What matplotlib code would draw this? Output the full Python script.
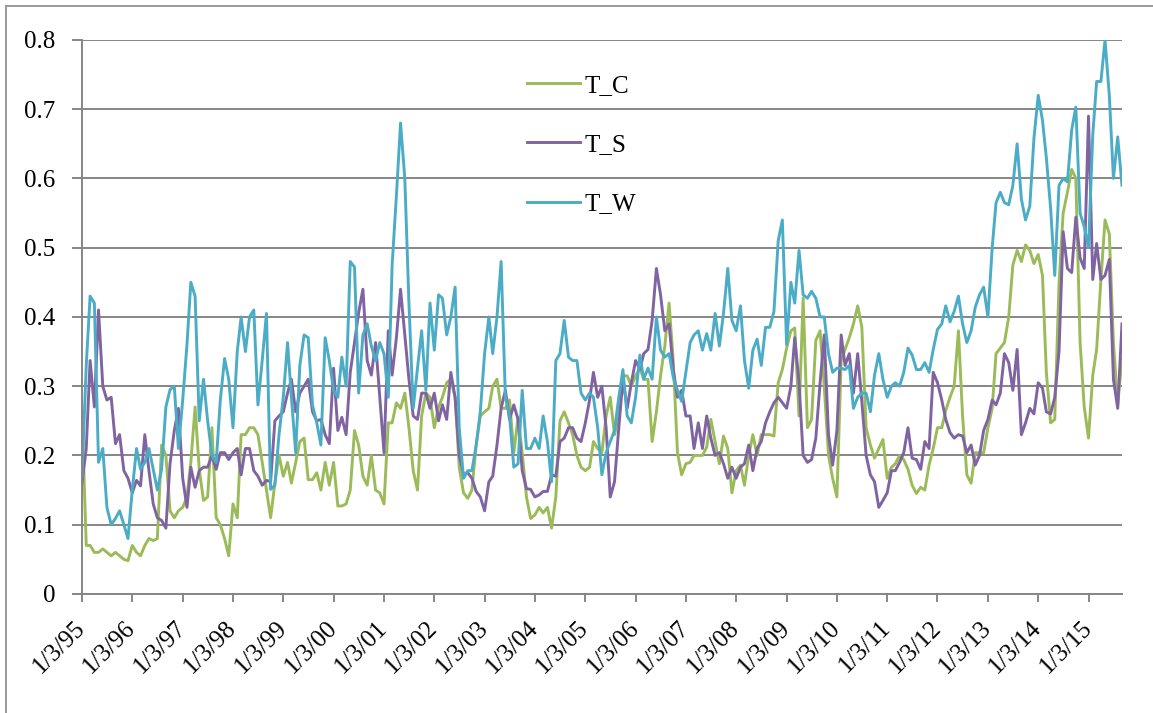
import numpy as np
import pandas as pd
import matplotlib
matplotlib.use("Agg")
import matplotlib.pyplot as plt
from matplotlib.lines import Line2D
from matplotlib.ticker import FuncFormatter, MultipleLocator

# monthly readings, one row per year, starting 1/3/95
t_c = [
    0.26, 0.07, 0.07, 0.06, 0.06, 0.065, 0.06, 0.055, 0.06, 0.055, 0.05, 0.048,
    0.07, 0.06, 0.055, 0.07, 0.08, 0.077, 0.08, 0.215, 0.20, 0.12, 0.11, 0.12,
    0.125, 0.14, 0.19, 0.27, 0.18, 0.135, 0.14, 0.24, 0.11, 0.10, 0.08, 0.055,
    0.13, 0.11, 0.23, 0.23, 0.24, 0.24, 0.23, 0.19, 0.15, 0.11, 0.16, 0.20,
    0.17, 0.19, 0.16, 0.19, 0.22, 0.225, 0.165, 0.165, 0.175, 0.15, 0.19, 0.157,
    0.19, 0.127, 0.127, 0.13, 0.15, 0.236, 0.215, 0.17, 0.157, 0.20, 0.15, 0.146,
    0.13, 0.247, 0.247, 0.276, 0.268, 0.29, 0.24, 0.178, 0.15, 0.257, 0.29, 0.284,
    0.24, 0.27, 0.284, 0.305, 0.31, 0.284, 0.183, 0.146, 0.138, 0.15, 0.215, 0.257,
    0.263, 0.268, 0.30, 0.31, 0.268, 0.268, 0.28, 0.204, 0.255, 0.204, 0.14, 0.109,
    0.114, 0.125, 0.117, 0.125, 0.095, 0.14, 0.25, 0.263, 0.247, 0.23, 0.20, 0.183,
    0.178, 0.183, 0.22, 0.21, 0.204, 0.257, 0.284, 0.23, 0.257, 0.315, 0.315, 0.30,
    0.315, 0.326, 0.31, 0.31, 0.22, 0.263, 0.315, 0.358, 0.42, 0.337, 0.204, 0.172,
    0.188, 0.19, 0.20, 0.20, 0.20, 0.212, 0.252, 0.22, 0.188, 0.228, 0.21, 0.146,
    0.178, 0.186, 0.157, 0.20, 0.23, 0.20, 0.23, 0.23, 0.23, 0.228, 0.305, 0.324,
    0.355, 0.38, 0.384, 0.257, 0.427, 0.24, 0.252, 0.366, 0.38, 0.30, 0.20, 0.167,
    0.14, 0.337, 0.353, 0.37, 0.39, 0.416, 0.385, 0.24, 0.215, 0.196, 0.21, 0.223,
    0.167, 0.183, 0.188, 0.20, 0.194, 0.18, 0.157, 0.145, 0.154, 0.15, 0.186, 0.21,
    0.24, 0.24, 0.265, 0.284, 0.30, 0.38, 0.257, 0.172, 0.16, 0.204, 0.204, 0.204,
    0.24, 0.268, 0.347, 0.355, 0.363, 0.40, 0.475, 0.496, 0.48, 0.504, 0.496, 0.477,
    0.49, 0.46, 0.32, 0.247, 0.252, 0.448, 0.55, 0.58, 0.613, 0.60, 0.363, 0.27,
    0.225, 0.316, 0.353, 0.454, 0.54, 0.52, 0.363, 0.273, 0.34,
]

t_s = [
    0.16, 0.21, 0.337, 0.27, 0.41, 0.30, 0.28, 0.284, 0.217, 0.23, 0.178, 0.167,
    0.146, 0.164, 0.156, 0.23, 0.178, 0.13, 0.11, 0.106, 0.095, 0.188, 0.236, 0.268,
    0.167, 0.125, 0.183, 0.154, 0.178, 0.183, 0.183, 0.20, 0.18, 0.204, 0.204, 0.194,
    0.204, 0.21, 0.172, 0.21, 0.21, 0.178, 0.17, 0.157, 0.164, 0.162, 0.25, 0.257,
    0.263, 0.29, 0.31, 0.263, 0.29, 0.30, 0.31, 0.263, 0.25, 0.252, 0.23, 0.217,
    0.326, 0.236, 0.255, 0.23, 0.32, 0.363, 0.406, 0.44, 0.337, 0.316, 0.363, 0.284,
    0.204, 0.38, 0.316, 0.37, 0.44, 0.374, 0.31, 0.257, 0.252, 0.29, 0.29, 0.268,
    0.29, 0.25, 0.273, 0.252, 0.32, 0.284, 0.20, 0.172, 0.175, 0.167, 0.148, 0.14,
    0.12, 0.162, 0.17, 0.215, 0.268, 0.294, 0.252, 0.273, 0.252, 0.178, 0.152, 0.151,
    0.14, 0.143, 0.148, 0.148, 0.172, 0.17, 0.22, 0.225, 0.24, 0.24, 0.225, 0.22,
    0.247, 0.28, 0.32, 0.284, 0.30, 0.24, 0.14, 0.162, 0.24, 0.31, 0.268, 0.305,
    0.337, 0.324, 0.347, 0.353, 0.395, 0.47, 0.432, 0.38, 0.39, 0.324, 0.284, 0.294,
    0.257, 0.257, 0.21, 0.247, 0.21, 0.257, 0.225, 0.20, 0.204, 0.188, 0.167, 0.183,
    0.167, 0.183, 0.188, 0.215, 0.178, 0.21, 0.22, 0.247, 0.263, 0.276, 0.284, 0.276,
    0.268, 0.30, 0.37, 0.305, 0.20, 0.19, 0.194, 0.225, 0.305, 0.374, 0.23, 0.186,
    0.236, 0.374, 0.33, 0.347, 0.29, 0.347, 0.278, 0.20, 0.172, 0.162, 0.125, 0.135,
    0.146, 0.178, 0.178, 0.19, 0.204, 0.24, 0.196, 0.194, 0.18, 0.22, 0.21, 0.32,
    0.305, 0.28, 0.252, 0.233, 0.225, 0.23, 0.228, 0.204, 0.215, 0.186, 0.20, 0.236,
    0.252, 0.28, 0.273, 0.29, 0.347, 0.334, 0.294, 0.353, 0.23, 0.247, 0.268, 0.26,
    0.305, 0.297, 0.263, 0.26, 0.284, 0.35, 0.523, 0.47, 0.464, 0.544, 0.485, 0.47,
    0.69, 0.454, 0.506, 0.454, 0.46, 0.483, 0.31, 0.268, 0.39,
]

t_w = [
    0.17, 0.33, 0.43, 0.42, 0.19, 0.21, 0.125, 0.10, 0.109, 0.12, 0.10, 0.08,
    0.15, 0.21, 0.18, 0.19, 0.21, 0.18, 0.15, 0.18, 0.27, 0.295, 0.30, 0.21,
    0.28, 0.36, 0.45, 0.43, 0.25, 0.31, 0.25, 0.20, 0.19, 0.28, 0.34, 0.31,
    0.24, 0.35, 0.40, 0.35, 0.40, 0.41, 0.273, 0.337, 0.405, 0.151, 0.157, 0.23,
    0.284, 0.363, 0.284, 0.204, 0.33, 0.374, 0.37, 0.273, 0.247, 0.215, 0.37, 0.337,
    0.294, 0.284, 0.342, 0.30, 0.48, 0.472, 0.29, 0.374, 0.39, 0.358, 0.337, 0.363,
    0.347, 0.284, 0.475, 0.575, 0.68, 0.60, 0.42, 0.268, 0.326, 0.38, 0.294, 0.42,
    0.352, 0.432, 0.427, 0.374, 0.40, 0.443, 0.24, 0.167, 0.178, 0.178, 0.215, 0.263,
    0.347, 0.40, 0.347, 0.40, 0.48, 0.284, 0.257, 0.183, 0.188, 0.294, 0.21, 0.21,
    0.225, 0.21, 0.257, 0.22, 0.162, 0.337, 0.347, 0.395, 0.342, 0.337, 0.337, 0.29,
    0.28, 0.29, 0.284, 0.24, 0.172, 0.204, 0.22, 0.236, 0.284, 0.324, 0.257, 0.247,
    0.284, 0.345, 0.31, 0.326, 0.31, 0.40, 0.352, 0.342, 0.347, 0.313, 0.294, 0.278,
    0.32, 0.363, 0.374, 0.38, 0.352, 0.376, 0.352, 0.405, 0.358, 0.405, 0.47, 0.395,
    0.38, 0.416, 0.337, 0.297, 0.352, 0.368, 0.33, 0.385, 0.385, 0.408, 0.51, 0.54,
    0.36, 0.45, 0.42, 0.496, 0.432, 0.427, 0.437, 0.427, 0.40, 0.40, 0.347, 0.32,
    0.326, 0.326, 0.324, 0.33, 0.268, 0.284, 0.29, 0.29, 0.263, 0.316, 0.347, 0.31,
    0.284, 0.30, 0.305, 0.30, 0.32, 0.355, 0.345, 0.324, 0.324, 0.334, 0.32, 0.353,
    0.382, 0.39, 0.416, 0.393, 0.408, 0.43, 0.39, 0.363, 0.38, 0.414, 0.432, 0.443,
    0.40, 0.50, 0.565, 0.58, 0.565, 0.562, 0.59, 0.65, 0.57, 0.54, 0.56, 0.658,
    0.72, 0.684, 0.63, 0.557, 0.46, 0.59, 0.60, 0.595, 0.67, 0.703, 0.55, 0.53,
    0.50, 0.663, 0.74, 0.74, 0.80, 0.72, 0.60, 0.66, 0.59,
]

series = [("T_C", t_c, "#9BBB59"), ("T_S", t_s, "#8064A2"), ("T_W", t_w, "#4BACC6")]
dates = pd.date_range("1995-01-03", periods=len(t_c), freq=pd.DateOffset(months=1))
tick_dates = pd.date_range("1995-01-03", "2015-01-03", freq=pd.DateOffset(years=1))
tick_labels = [f"{d.month}/{d.day}/{d:%y}" for d in tick_dates]

plt.rcParams["font.family"] = ["Liberation Serif", "DejaVu Serif"]
grey = "#868686"

fig = plt.figure(figsize=(11.53, 7.13), dpi=100)
ax = fig.add_axes([0.0711, 0.167, 0.9020, 0.777])

for name, vals, col in series:
    ax.plot(dates, vals, color=col, lw=2.1, label=name, solid_joinstyle="round")

ax.set_xlim(dates[0], dates[-1])
ax.set_ylim(0, 0.8)
ax.yaxis.set_major_locator(MultipleLocator(0.1))
ax.yaxis.set_major_formatter(FuncFormatter(lambda v, p: "0" if abs(v) < 1e-9 else f"{v:.1f}"))
ax.grid(axis="y", color=grey, lw=1.4)
ax.set_axisbelow(True)

ax.set_xticks(tick_dates)
ax.set_xticklabels(tick_labels, rotation=45, ha="right", va="center",
                   rotation_mode="anchor")

for s in ["top", "right"]:
    ax.spines[s].set_visible(False)
for s in ["left", "bottom"]:
    ax.spines[s].set_color(grey)
    ax.spines[s].set_linewidth(1.4)

ax.tick_params(axis="y", length=7, width=1.4, color=grey, labelsize=18, pad=12)
ax.tick_params(axis="x", length=6, width=1.4, color=grey, labelsize=18, pad=16)

ax.legend(loc="upper left", bbox_to_anchor=(0.428, 0.938), frameon=False,
          fontsize=18, handlelength=2.1, handletextpad=0.2, labelspacing=1.47,
          borderpad=0, borderaxespad=0)

# chart area border
fig.add_artist(Line2D([5.5 / 1153, 5.5 / 1153], [0, 1 - 5.5 / 713], color="#9a9a9a",
                      lw=1.4, transform=fig.transFigure))
fig.add_artist(Line2D([5.5 / 1153, 1], [1 - 5.5 / 713, 1 - 5.5 / 713], color="#9a9a9a",
                      lw=1.4, transform=fig.transFigure))

fig.savefig("out.png", dpi=100)
